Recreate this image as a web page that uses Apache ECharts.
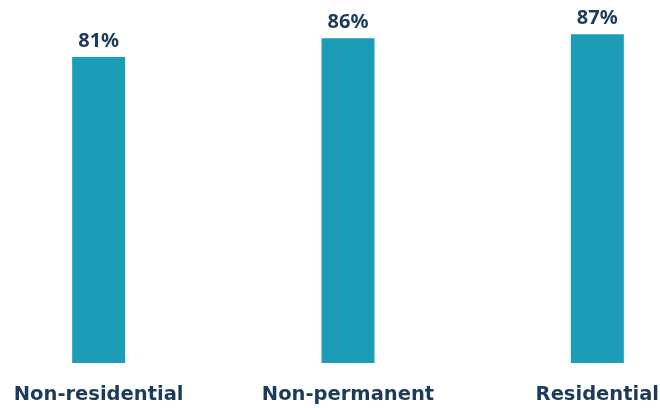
<!DOCTYPE html>
<html><head><meta charset="utf-8">
<script src="https://cdn.jsdelivr.net/npm/echarts@6/dist/echarts.min.js"></script>
<style>html,body{margin:0;padding:0;background:#fff}#c{width:660px;height:408px}</style>
</head><body><div id="c"></div>
<script>
var categories = ['Non-residential', 'Non-permanent', 'Residential'];
var values = [81, 86, 87];

var chart = echarts.init(document.getElementById('c'));
chart.setOption({
  animation: false,
  grid: { left: -26, top: 0, width: 748, height: 363, containLabel: false, outerBoundsMode: 'none' },
  xAxis: {
    type: 'category',
    data: categories,
    axisLine: { show: false },
    axisTick: { show: false },
    axisLabel: { color: '#1c3a5a', fontFamily: 'DejaVu Sans', fontWeight: 'bold', fontSize: 19.5, margin: 22 }
  },
  yAxis: { type: 'value', min: 0, max: 96.1, show: false, splitLine: { show: false } },
  series: [{
    type: 'bar',
    data: values,
    barWidth: 53,
    itemStyle: { color: '#1b9db8' },
    label: {
      show: true, position: 'top', distance: 6,
      formatter: '{c}%',
      color: '#1c3a5a', fontFamily: 'Noto Sans', fontWeight: 'bold', fontSize: 20
    }
  }]
});
</script></body></html>
